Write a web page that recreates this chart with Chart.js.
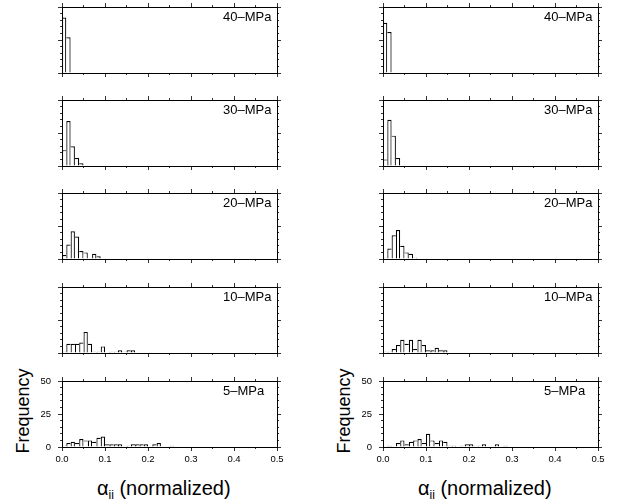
<!DOCTYPE html>
<html>
<head>
<meta charset="utf-8">
<script src="https://cdn.jsdelivr.net/npm/chart.js@4.4.1/dist/chart.umd.min.js"></script>
<style>
  body { margin: 0; background: #fff; }
  #fig { position: relative; width: 618px; height: 502px; font-family: "Liberation Sans", Arial, sans-serif; color: #000; }
  #fig canvas { position: absolute; left: 0; top: 0; }
  .ylab { position: absolute; width: 120px; height: 18px; line-height: 18px; font-size: 18px; text-align: center;
          transform: rotate(-90deg); white-space: nowrap; color: #000; }
  .xlab { position: absolute; font-size: 20px; line-height: 20px; white-space: nowrap; color: #000; }
  .xlab sub { font-size: 60%; vertical-align: -0.3em; line-height: 0; color: #000; }
</style>
</head>
<body>
<div id="fig">
  <div class="ylab" style="left:-37px; top:402px;">Frequency</div>
  <div class="ylab" style="left:284px; top:402px;">Frequency</div>
  <div class="xlab" style="left:97px; top:478px;">α<sub>ii</sub> (normalized)</div>
  <div class="xlab" style="left:418px; top:478px;">α<sub>ii</sub> (normalized)</div>
</div>
<script>
// histogramas de alpha_ii, bins de 0.01, eje x 0..0.5, eje y 0..50
const binWidth = 0.01;
const panelLabels = ['40–MPa', '30–MPa', '20–MPa', '10–MPa', '5–MPa'];
const xTicks = [0, 0.1, 0.2, 0.3, 0.4, 0.5];
const yTicks = [0, 25, 50];

// columna izquierda
const left40 = [42, 27];
const left30 = [12, 34, 15, 6, 2];
const left20 = [3, 11, 21, 17, 6, 5, 0, 4, 2];
const left10 = [1, 7, 7, 7, 8, 16, 7, 1, 1, 5, 0, 1, 1, 2, 1, 2, 2];
const left5  = [1, 3, 4, 3, 6, 5, 5, 4, 7, 8, 2, 2, 2, 2, 0, 1, 2, 2, 2, 2, 0, 2, 3, 0, 0, 1];

// columna derecha
const right40 = [38, 31];
const right30 = [5, 35, 23, 6];
const right20 = [1, 8, 18, 22, 10, 5, 4, 1];
const right10 = [1, 1, 3, 6, 10, 7, 10, 3, 10, 6, 2, 2, 4, 2, 2];
const right5  = [0, 1, 0, 3, 5, 2, 4, 5, 6, 3, 10, 5, 3, 5, 4, 1, 1, 0, 1, 2, 2, 1, 1, 2, 0, 0, 2, 0, 1];

const columns = [
  [left40, left30, left20, left10, left5],
  [right40, right30, right20, right10, right5],
];

// layout (px)
const W = 618, H = 502;
const colLeft = [62, 383];
const rowTop = [7, 100, 193, 287, 381];
const plotW = 215, plotH = 66;
const xLabelBox = 22, yLabelBox = 40;  // espacio de etiquetas en la fila de abajo

const fontFamily = '"Liberation Sans", Arial, sans-serif';

const panelLabel = {
  id: 'panelLabel',
  afterDraw(chart, args, opts) {
    const { ctx, chartArea } = chart;
    ctx.save();
    ctx.font = '13px ' + fontFamily;
    ctx.fillStyle = '#000';
    ctx.textAlign = 'left';
    ctx.textBaseline = 'alphabetic';
    ctx.fillText(opts.text, chartArea.left + 161, chartArea.top + 13.5);
    ctx.restore();
  }
};

/** eje de un lado del marco; major lleva ticks largos (y etiquetas si showLabels) */
function sideAxis(position, isX, major, showLabels) {
  const box = showLabels ? (isX ? xLabelBox : yLabelBox) : 0;
  return {
    type: 'linear',
    position,
    axis: isX ? 'x' : 'y',
    min: 0,
    max: isX ? 0.5 : 50,
    offset: false,
    afterFit: s => { if (isX) s.height = box; else s.width = box; },
    afterBuildTicks: major ? (s => { s.ticks = (isX ? xTicks : yTicks).map(v => ({ value: v })); }) : undefined,
    ticks: {
      display: showLabels,
      stepSize: isX ? 0.05 : 5,
      padding: isX ? 3 : 7,
      autoSkip: false,
      maxRotation: 0,
      font: { family: fontFamily, size: 9.5 },
      color: '#000',
      callback: isX ? (v => Number(v).toFixed(1)) : (v => String(v)),
    },
    grid: { drawOnChartArea: false, drawTicks: true, offset: false, tickLength: major ? 4 : 2, color: '#333', lineWidth: 1 },
    border: { display: true, color: '#000', width: 1 },
  };
}

function makePanel(counts, label, col, row) {
  const canvas = document.createElement('canvas');
  canvas.width = W;
  canvas.height = H;
  document.getElementById('fig').appendChild(canvas);

  const left = colLeft[col], top = rowTop[row];
  const lastRow = row === rowTop.length - 1;
  const padLeft = left - (lastRow ? yLabelBox : 0);
  const padBottom = H - top - plotH - (lastRow ? xLabelBox : 0);

  new Chart(canvas, {
    type: 'bar',
    data: {
      datasets: [{
        data: counts.map((c, i) => ({ x: (i + 0.5) * binWidth, y: c })),
        backgroundColor: '#ffffff',
        borderColor: '#000000',
        // bordes compartidos: el borde entre dos barras lo dibuja la mas alta
        borderWidth: ctx => {
          const i = ctx.dataIndex, cur = counts[i];
          return {
            top: 1.2,
            left: (i === 0 || counts[i - 1] <= cur) ? 1.2 : 0,
            right: (i === counts.length - 1 || counts[i + 1] < cur) ? 1.2 : 0,
            bottom: 0,
          };
        },
        borderSkipped: 'start',
        inflateAmount: 0,
        barPercentage: 1,
        categoryPercentage: 1,
        xAxisID: 'x',
        yAxisID: 'y',
      }],
    },
    options: {
      responsive: false,
      animation: false,
      events: [],
      layout: {
        padding: { left: padLeft, top: top, right: W - left - plotW, bottom: padBottom },
      },
      plugins: {
        legend: { display: false },
        tooltip: { enabled: false },
        panelLabel: { text: label },
      },
      // los ejes menores (tamaño 0) van primero para quedar pegados al marco
      scales: {
        x2: sideAxis('bottom', true, false, false),
        x:  sideAxis('bottom', true, true, lastRow),
        x4: sideAxis('top', true, false, false),
        x3: sideAxis('top', true, true, false),
        y2: sideAxis('left', false, false, false),
        y:  sideAxis('left', false, true, lastRow),
        y4: sideAxis('right', false, false, false),
        y3: sideAxis('right', false, true, false),
      },
    },
    plugins: [panelLabel],
  });
}

columns.forEach((panels, col) => {
  panels.forEach((counts, row) => makePanel(counts, panelLabels[row], col, row));
});
</script>
</body>
</html>
